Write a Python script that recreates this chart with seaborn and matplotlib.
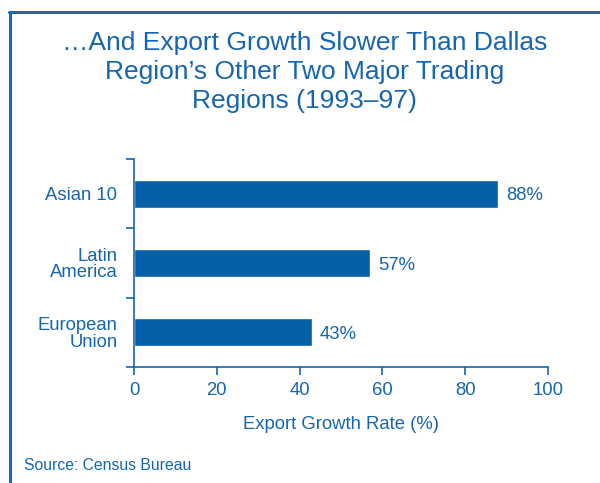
import matplotlib
matplotlib.use("Agg")
import matplotlib.pyplot as plt
import seaborn as sns
import pandas as pd
from matplotlib.lines import Line2D

categories = ["Asian 10", "Latin\nAmerica", "European\nUnion"]
values = [88, 57, 43]
value_labels = ["88%", "57%", "43%"]
xticks = [0, 20, 40, 60, 80, 100]

sns.set_theme(style="white")
plt.rcParams['font.family'] = ['Liberation Sans', 'DejaVu Sans']

BAR = "#0560a8"
TXT = "#1565b0"
FS = 13.3

df = pd.DataFrame({"region": categories, "growth": values})

fig = plt.figure(figsize=(6.0, 4.83), dpi=100)
ax = fig.add_axes([134/600, 1-367/483, (548-134)/600, (367-159)/483])

sns.barplot(data=df, x="growth", y="region", orient="h", color=BAR,
            width=0.4, saturation=1, ax=ax)

ax.set_xlim(0, 100)
ax.set_ylim(2.5, -0.5)
ax.set_xticks(xticks)
ax.set_xticklabels([str(t) for t in xticks], fontsize=FS, color=TXT)
ax.set_yticks(range(len(categories)))
ax.set_yticklabels(categories, fontsize=FS, color=TXT, linespacing=0.95)
ax.set_yticks([-0.5, 0.5, 1.5, 2.5], minor=True)
ax.tick_params(axis="y", which="major", length=0, pad=12)
ax.tick_params(axis="y", which="minor", length=6, width=1.2, color=TXT, left=True)
ax.tick_params(axis="x", which="major", length=6, width=1.2, color=TXT, pad=5, bottom=True)
ax.set_ylabel("")
ax.set_xlabel("Export Growth Rate (%)", fontsize=FS, color=TXT, labelpad=12)

for s in ["top", "right"]:
    ax.spines[s].set_visible(False)
for s in ["left", "bottom"]:
    ax.spines[s].set_color(TXT)
    ax.spines[s].set_linewidth(1.2)

for i, (v, lab) in enumerate(zip(values, value_labels)):
    ax.text(v + 1.9, i, lab, va="center_baseline", ha="left", fontsize=FS, color=TXT)

fig.text(0.508, 1-72/483, "…And Export Growth Slower Than Dallas\nRegion’s Other Two Major Trading\nRegions (1993–97)",
         ha="center", va="center", fontsize=19, color=TXT, linespacing=1.27)
fig.text(24/600, 1-466/483, "Source: Census Bureau", ha="left", va="center",
         fontsize=11.3, color=TXT)

# frame lines (top and left)
fig.add_artist(Line2D([9/600, 1.0], [1-12/483, 1-12/483], color="#1a6ab3", lw=2.2,
                      transform=fig.transFigure))
fig.add_artist(Line2D([10/600, 10/600], [0, 1-12/483], color="#1a6ab3", lw=2.2,
                      transform=fig.transFigure))

fig.savefig("out.png", dpi=100)
